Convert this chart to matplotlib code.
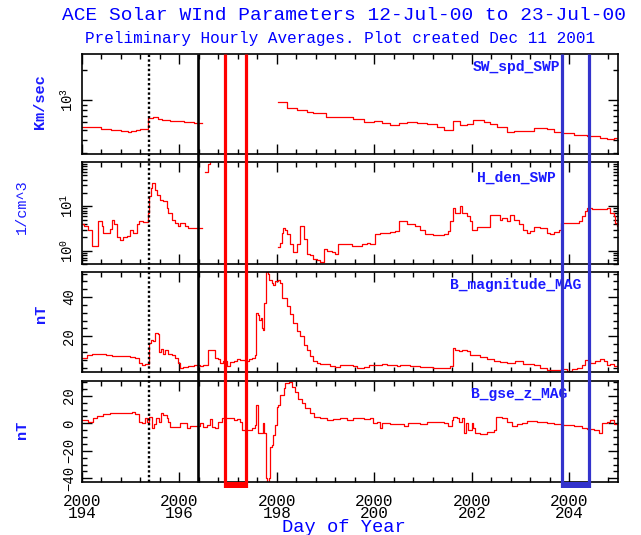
import numpy as np
import matplotlib
matplotlib.use("Agg")
import matplotlib.pyplot as plt
from matplotlib.ticker import FixedLocator, FixedFormatter, MultipleLocator, LogLocator, NullFormatter

plt.rcParams['font.family'] = ['Liberation Mono', 'DejaVu Sans Mono']
plt.rcParams['mathtext.fontset'] = 'custom'
plt.rcParams['mathtext.rm'] = 'Liberation Mono'
plt.rcParams['mathtext.it'] = 'Liberation Mono'

nan = np.nan

# ---------------- data ----------------
title = "ACE Solar WInd Parameters 12-Jul-00 to 23-Jul-00"
subtitle = "Preliminary Hourly Averages. Plot created Dec 11 2001"
x_label = "Day of Year"
x_ticks = [194, 196, 198, 200, 202, 204]
x_tick_labels = ["2000\n194", "2000\n196", "2000\n198", "2000\n200", "2000\n202", "2000\n204"]
panel_names = ["SW_spd_SWP", "H_den_SWP", "B_magnitude_MAG", "B_gse_z_MAG"]
unit_labels = ["Km/sec", "1/cm^3", "nT", "nT"]

spd_day = [194.0, 194.3, 194.4, 194.6, 194.8, 194.95, 195.0, 195.1, 195.2, 195.3, 195.36, 195.45,
           195.55, 195.65, 195.8, 196.0, 196.1, 196.3, 196.46, 198.03, 198.1, 198.2, 198.41, 198.61,
           198.75, 198.89, 199.0, 199.4, 199.57, 199.78, 200.0, 200.15, 200.32, 200.5, 200.67, 200.87,
           201.08, 201.28, 201.42, 201.62, 201.76, 201.9, 202.03, 202.24, 202.38, 202.51, 202.72,
           202.86, 203.27, 203.54, 203.68, 203.85, 204.09, 204.36, 204.64, 204.77, 204.91, 205.0]
spd_val = [542, 535, 510, 502, 495, 484, 495, 500, 520, 512, 667, 682,
           650, 632, 620, 620, 608, 597, nan, 962, 950, 826, 795, 765,
           747, 736, 682, 672, 642, 608, 618, 594, 561, 594, 608, 584,
           578, 542, 502, 618, 561, 575, 632, 608, 578, 535, 484,
           490, 522, 515, 484, 467, 450, 441, 418, 409, 421, 418]

den_day = [194.0, 194.05, 194.13, 194.2, 194.32, 194.37, 194.41, 194.44, 194.57, 194.61, 194.66,
           194.71, 194.78, 194.85, 194.92, 194.99, 195.05, 195.12, 195.16, 195.26, 195.35, 195.38,
           195.41, 195.43, 195.5, 195.53, 195.6, 195.67, 195.74, 195.77, 195.84, 195.91, 195.98,
           196.01, 196.11, 196.18, 196.46, 196.53, 196.58, 196.63, 196.66, 198.03, 198.07, 198.1,
           198.13, 198.17, 198.2, 198.27, 198.34, 198.41, 198.48, 198.55, 198.61, 198.68, 198.75,
           198.82, 198.89, 198.96, 199.02, 199.13, 199.19, 199.26, 199.54, 199.64, 199.74, 199.85,
           199.91, 200.02, 200.12, 200.22, 200.32, 200.43, 200.5, 200.67, 200.84, 200.94, 201.04,
           201.21, 201.42, 201.52, 201.56, 201.62, 201.66, 201.76, 201.8, 201.9, 201.97, 202.0,
           202.1, 202.38, 202.58, 202.62, 202.72, 202.79, 202.86, 202.96, 203.06, 203.13, 203.2,
           203.27, 203.4, 203.54, 203.61, 203.68, 203.78, 203.82, 204.19, 204.26, 204.33, 204.36,
           204.47, 204.67, 204.77, 204.84, 204.91, 204.94, 204.98, 205.0]
den_val = [3.9, 3.6, 3.0, 1.3, 4.7, 4.6, 3.6, 2.5, 3.1, 5.0, 3.9,
           2.0, 1.75, 2.0, 2.15, 3.0, 2.56, 3.9, 4.7, 4.5, 7.0, 17,
           25.6, 33, 23, 18.2, 14, 12.9, 9.2, 7.0, 5.0, 4.2, 3.6,
           4.2, 3.6, 3.2, nan, 60, 90, 150, nan, 1.19, 1.5, 2.56,
           3.3, 3.0, 2.35, 1.4, 0.92, 1.4, 3.6, 1.8, 0.85, 0.78, 0.65,
           0.6, 0.56, 1.1, 1.0, 0.92, 0.85, 1.4, 1.3, 1.25, 1.4, 1.5,
           1.45, 2.35, 2.56, 2.45, 2.65, 2.75, 4.6, 3.9, 3.6, 3.0, 2.35,
           2.25, 2.35, 2.8, 4.6, 9.2, 7.0, 10, 7.0, 6.0, 4.6, 3.0,
           3.4, 6.5, 5.0, 5.4, 4.6, 6.5, 5.0, 3.9, 3.0, 2.56, 2.8,
           3.4, 3.2, 2.56, 2.35, 2.7, 3.0, 4.2, 4.6, 6.0, 7.7, 9.2,
           8.5, 8.8, 9.2, 7.0, 6.0, 4.2, 3.6, 5.0]

bt_day = [194.0, 194.1, 194.2, 194.5, 194.61, 194.99, 195.09, 195.16, 195.23, 195.29, 195.38,
          195.41, 195.46, 195.5, 195.55, 195.59, 195.62, 195.66, 195.7, 195.77, 195.84, 195.91,
          195.98, 196.01, 196.08, 196.18, 196.29, 196.42, 196.49, 196.59, 196.66, 196.73, 196.8,
          196.83, 196.9, 196.97, 197.04, 197.11, 197.18, 197.24, 197.35, 197.42, 197.48, 197.55,
          197.57, 197.62, 197.64, 197.68, 197.69, 197.72, 197.74, 197.77, 197.81, 197.84, 197.89,
          197.93, 197.96, 198.03, 198.07, 198.1, 198.2, 198.27, 198.34, 198.41, 198.48, 198.55,
          198.61, 198.68, 198.75, 198.82, 198.89, 199.09, 199.19, 199.3, 199.43, 199.57, 199.64,
          199.78, 199.88, 200.02, 200.15, 200.26, 200.46, 200.53, 200.73, 200.94, 201.21, 201.56,
          201.61, 201.66, 201.73, 201.8, 201.9, 201.97, 202.03, 202.17, 202.31, 202.45, 202.58,
          202.72, 202.89, 203.06, 203.27, 203.4, 203.54, 203.68, 203.82, 203.95, 204.05, 204.16,
          204.26, 204.33, 204.43, 204.53, 204.64, 204.71, 204.77, 204.84, 204.91, 205.0]
bt_val = [9.0, 10.3, 11, 10.3, 9.8, 9.3, 9.0, 6.5, 5.6, 6.1, 16.6,
          18.3, 17.8, 21.7, 21.2, 12.1, 13.7, 11, 13.2, 11, 10.3, 9.0,
          6.5, 4.0, 4.3, 4.8, 5.3, 4.8, 5.6, 13.2, 12.8, 9.0, 8.6,
          6.5, 7.3, 4.8, 6.8, 7.3, 8.2, 7.7, 7.3, 8.2, 9.0, 10.7,
          31.9, 31.0, 28.4, 29.3, 24.3, 23.4, 37, 53, 52, 48.8, 47.1,
          46.2, 48.3, 48.8, 47.1, 39.5, 35.3, 31.4, 26.8, 22.5, 20, 15.8,
          13.2, 9.8, 7.3, 6.5, 6.0, 4.8, 4.3, 5.6, 5.3, 4.8, 4.0,
          4.5, 5.3, 5.6, 6.1, 5.3, 4.8, 5.3, 4.8, 4.3, 4.0, 4.8,
          14, 13.2, 12.4, 13.2, 12.4, 10.7, 10.3, 9.3, 8.2, 7.3, 7.0,
          6.5, 7.3, 6.1, 5.3, 4.0, 2.8, 2.6, 3.1, 2.3, 3.1, 4.0,
          5.6, 7.7, 6.5, 7.3, 8.2, 7.3, 5.3, 6.0, 4.8, 5.6]

bz_day = [194.0, 194.13, 194.23, 194.3, 194.44, 194.57, 194.85, 195.02, 195.09, 195.16, 195.23,
          195.29, 195.33, 195.38, 195.43, 195.48, 195.52, 195.57, 195.62, 195.67, 195.74, 195.77,
          195.81, 196.01, 196.15, 196.22, 196.42, 196.49, 196.56, 196.63, 196.66, 196.73, 196.8,
          196.87, 197.11, 197.18, 197.24, 197.28, 197.48, 197.55, 197.57, 197.62, 197.71, 197.74,
          197.77, 197.79, 197.83, 197.86, 197.89, 197.93, 197.96, 198.0, 198.03, 198.07, 198.14,
          198.17, 198.24, 198.3, 198.37, 198.44, 198.51, 198.58, 198.68, 198.77, 198.89, 199.02,
          199.16, 199.3, 199.43, 199.57, 199.78, 199.91, 199.98, 200.05, 200.12, 200.15, 200.32,
          200.6, 200.7, 200.94, 201.08, 201.28, 201.42, 201.52, 201.59, 201.62, 201.69, 201.73,
          201.8, 201.83, 201.88, 201.93, 202.0, 202.03, 202.07, 202.17, 202.31, 202.45, 202.5,
          202.62, 202.72, 202.82, 202.92, 203.03, 203.13, 203.34, 203.54, 203.68, 203.88, 204.09,
          204.26, 204.36, 204.5, 204.6, 204.67, 204.77, 204.84, 204.91, 205.0]
bz_val = [2.4, 1.2, 3.6, 5.3, 6.5, 7.3, 7.7, 8.4, 6.5, 1.2, 0,
          4.1, 1.2, 4.8, -3.6, -0.7, 4.1, 1.2, 7.3, 6.0, 3.6, 1.2,
          -2.4, 0.5, -3.1, -1.7, 0, -2.4, -1.2, 2.9, -2.4, -3.6, 1.2,
          3.6, 2.4, 2.9, 1.2, -4.8, -3.6, -1.2, 13.3, -7.3, 0, -7.3,
          -40, -45, -40, -17, -16, -8.5, -1.2, 12.1, 13.3, 20.6, 25.5,
          29.1, 30.3, 26.7, 23, 18, 14.5, 10.9, 7.3, 4.8, 3.6, 2.4,
          3.1, 3.6, 2.4, 3.6, 3.1, 3.6, 0, 1.2, -3.1, 0.5, -0.7,
          -1.7, 0.5, -0.7, 0.7, 1.2, 0, -1.7, 2.4, 4.8, 3.6, 1.2,
          3.6, -7.3, 0, -4.8, 0, -3.6, -7.3, -8.0, -6.5, -4.8, 4.8,
          4.1, 0.7, -1.7, -0.7, 0.5, 1.7, 0.7, 0, -0.7, -1.2, -1.9,
          -3.6, -4.1, -4.8, -6.7, 0, 1.2, 2.4, -0.7, 0]

# event markers (day of year)
dotted_event = [195.38]
black_event = [196.39]
red_interval = [196.94, 197.37]
blue_interval = [203.85, 204.40]

# ---------------- layout ----------------
W, H = 641, 535
fig = plt.figure(figsize=(W / 100, H / 100), dpi=100)

def px_rect(x0, y_top, x1, y_bot):
    return [x0 / W, 1 - y_bot / H, (x1 - x0) / W, (y_bot - y_top) / H]

L, R = 82, 618
panel_px = [(54, 154), (162, 264), (272, 372), (381, 482)]
axes = [fig.add_axes(px_rect(L, t, R, b)) for t, b in panel_px]

series = [(spd_day, spd_val), (den_day, den_val), (bt_day, bt_val), (bz_day, bz_val)]
blue_txt = '#1a1aff'

for ax, (d, v) in zip(axes, series):
    ax.plot(d, v, color='#ff0000', lw=0.9, drawstyle='steps-post')
    ax.set_xlim(194, 205)
    ax.xaxis.set_major_locator(MultipleLocator(2))
    ax.xaxis.set_minor_locator(MultipleLocator(0.4))
    ax.tick_params(which='both', direction='in', top=True, right=True, labelbottom=False,
                   width=1.0, colors='black')
    ax.tick_params(which='major', length=7)
    ax.tick_params(which='minor', length=3.5)
    ax.tick_params(axis='y', labelrotation=90, labelsize=10, pad=4)
    for s in ax.spines.values():
        s.set_linewidth(1.2)

# panel 1 speed (log)
a = axes[0]
a.set_yscale('log')
a.set_ylim(290, 2870)
a.yaxis.set_major_locator(FixedLocator([1000]))
a.yaxis.set_major_formatter(FixedFormatter([r'$10^3$']))
a.yaxis.set_minor_locator(FixedLocator([300, 400, 500, 600, 700, 800, 900, 2000]))
a.yaxis.set_minor_formatter(NullFormatter())

# panel 2 density (log)
a = axes[1]
a.set_yscale('log')
a.set_ylim(0.5, 100)
a.yaxis.set_major_locator(FixedLocator([1, 10]))
a.yaxis.set_major_formatter(FixedFormatter([r'$10^0$', r'$10^1$']))
a.yaxis.set_minor_locator(LogLocator(base=10, subs=np.arange(2, 10), numticks=20))
a.yaxis.set_minor_formatter(NullFormatter())

# panel 3 |B|
a = axes[2]
a.set_ylim(1.8, 52.8)
a.yaxis.set_major_locator(FixedLocator([20, 40]))
a.yaxis.set_minor_locator(MultipleLocator(4))

# panel 4 Bz
a = axes[3]
a.set_ylim(-42.7, 30.8)
a.yaxis.set_major_locator(FixedLocator([-40, -20, 0, 20]))
a.yaxis.set_minor_locator(MultipleLocator(5))
a.set_xticks(x_ticks)
a.set_xticklabels(x_tick_labels)
a.tick_params(axis='x', labelbottom=True, labelsize=11.5, pad=8.5)
for t in a.get_xticklabels():
    t.set_linespacing(0.8)

for ax in axes:
    for t in ax.get_yticklabels():
        t.set_va('center')

# panel names
name_pos = [(473, 67), (477, 178), (450, 285), (471, 394)]
for ax, name, (px, py), (t, b) in zip(axes, panel_names, name_pos, panel_px):
    ax.text((px - L) / (R - L), (b - py) / (b - t), name, transform=ax.transAxes,
            ha='left', va='center', color=blue_txt, fontsize=10.5, fontweight='bold')

# unit labels
unit_pos = [(40, 102), (22, 207), (41, 314), (22, 430)]
for lab, (px, py), wt in zip(unit_labels, unit_pos, ['bold', 'normal', 'bold', 'bold']):
    fig.text(px / W, 1 - py / H, lab, rotation=90, ha='center', va='center',
             color=blue_txt, fontsize=11, fontweight=wt)

# titles
fig.text(343.5 / W, 1 - 16 / H, title, ha='center', va='center', color='blue', fontsize=14)
fig.text(340 / W, 1 - 39 / H, subtitle, ha='center', va='center', color='blue', fontsize=11.5)
fig.text(344 / W, 1 - 528 / H, x_label, ha='center', va='center', color='blue', fontsize=13.5)

# overlay for event lines
ov = fig.add_axes(px_rect(L, 54, R, 488))
ov.set_xlim(194, 205)
ov.set_ylim(0, 1)
ov.axis('off')
ov.patch.set_alpha(0)
ybase = (488 - 482) / (488 - 54)
ov.vlines(dotted_event, ybase, 1, colors='black', lw=1.7, linestyles=(0, (1, 1)))
ov.vlines(black_event, ybase, 1, colors='black', lw=1.9)
ov.vlines(red_interval, 0, 1, colors='#ff0000', lw=2.3)
ov.vlines(blue_interval, 0, 1, colors='#3333cc', lw=2.3)
ov.axvspan(red_interval[0], red_interval[1], 0, ybase, color='#ff0000', lw=0)
ov.axvspan(blue_interval[0], blue_interval[1], 0, ybase, color='#3333cc', lw=0)

fig.savefig('out.png', dpi=100)
